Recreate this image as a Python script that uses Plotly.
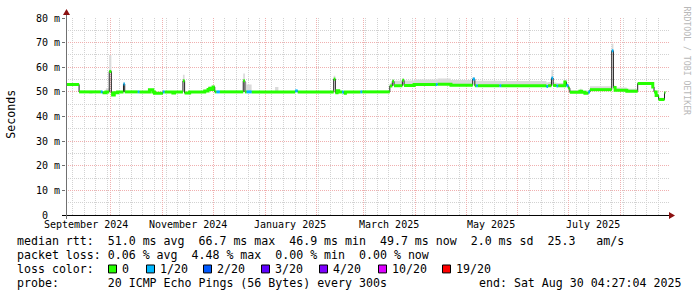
import plotly.graph_objects as go

# ---------------- data ----------------
seg_start = [
    "2024-09-04 04:27", "2024-09-12", "2024-09-18", "2024-09-20", "2024-09-25",
    "2024-09-26", "2024-09-28", "2024-09-30", "2024-10-01 06:00", "2024-10-02",
    "2024-10-03", "2024-10-05", "2024-10-08 12:00", "2024-10-09 06:00", "2024-10-17",
    "2024-10-18", "2024-10-24", "2024-10-26", "2024-10-27", "2024-11-01",
    "2024-11-02", "2024-11-07", "2024-11-08", "2024-11-13", "2024-11-14",
    "2024-11-17", "2024-11-26", "2024-11-28", "2024-11-29", "2024-11-30",
    "2024-12-01", "2024-12-02", "2024-12-03", "2024-12-05", "2024-12-19",
    "2024-12-20", "2024-12-21", "2024-12-24", "2025-01-07", "2025-01-09",
    "2025-01-19", "2025-01-20 12:00", "2025-02-11", "2025-02-12", "2025-02-13",
    "2025-02-14", "2025-02-16", "2025-02-17", "2025-02-18", "2025-02-27",
    "2025-02-28", "2025-03-16 12:00", "2025-03-18", "2025-03-19", "2025-03-24",
    "2025-03-25", "2025-03-31", "2025-04-13", "2025-04-14", "2025-04-22",
    "2025-05-05", "2025-05-06 06:00", "2025-05-07", "2025-05-08", "2025-05-21",
    "2025-05-22", "2025-06-18", "2025-06-19", "2025-06-21", "2025-06-22",
    "2025-06-24", "2025-06-25", "2025-06-29", "2025-06-30", "2025-07-01",
    "2025-07-02", "2025-07-08", "2025-07-09", "2025-07-11", "2025-07-13",
    "2025-07-14", "2025-07-27", "2025-07-28", "2025-07-29", "2025-08-05",
    "2025-08-11 12:00", "2025-08-20 12:00", "2025-08-21 06:00", "2025-08-22 12:00", "2025-08-24",
    "2025-08-27 12:00",
]
series_end = "2025-08-28"

median_ms = [
    53.0, 50.0, 49.7, 50.0, 50.0,
    49.6, 50.0, 58.3, 49.5, 48.7,
    49.6, 50.0, 53.2, 50.0, 50.0,
    50.0, 50.9, 50.0, 49.4, 50.0,
    50.0, 49.5, 50.0, 54.5, 49.5,
    50.0, 50.4, 51.0, 51.5, 51.0,
    52.0, 50.0, 50.0, 50.0, 54.5,
    50.0, 50.0, 50.0, 50.0, 50.0,
    50.4, 50.0, 55.2, 49.6, 50.5,
    50.0, 50.0, 49.4, 50.0, 50.0,
    50.0, 52.4, 54.3, 52.5, 54.7,
    52.6, 53.0, 53.0, 53.1, 52.7,
    55.2, 52.5, 52.5, 52.5, 52.5,
    52.5, 52.2, 52.5, 55.6, 52.6,
    52.4, 52.5, 54.0, 52.6, 51.5,
    49.8, 50.3, 49.8, 49.4, 49.9,
    50.9, 66.7, 51.8, 50.7, 50.3,
    53.4, 52.0, 50.0, 48.5, 46.9,
    49.7,
]

smoke_top_ms = [
    53.6, 50.4, 50.2, 50.4, 50.4,
    50.2, 51.5, 65.0, 50.2, 49.6,
    50.1, 50.4, 54.0, 50.4, 50.4,
    50.4, 51.2, 50.4, 50.0, 50.4,
    50.4, 50.0, 50.4, 57.0, 50.0,
    50.4, 51.0, 51.8, 52.2, 51.8,
    52.6, 50.4, 50.4, 50.4, 57.5,
    54.0, 53.0, 50.4, 52.0, 50.4,
    50.8, 50.4, 56.5, 50.0, 50.9,
    50.4, 50.4, 49.9, 50.4, 50.4,
    50.4, 53.5, 55.0, 54.5, 55.5,
    54.6, 55.0, 55.0, 55.4, 54.8,
    56.0, 54.5, 54.5, 54.5, 54.5,
    54.4, 53.8, 54.0, 59.0, 53.8,
    53.6, 53.6, 54.8, 53.4, 52.5,
    50.8, 51.3, 50.6, 50.6, 50.8,
    52.3, 69.5, 52.6, 51.8, 51.3,
    54.0, 52.8, 50.8, 49.2, 47.6,
    50.4,
]

loss_class = [
    0, 0, 0, 0, 1,
    0, 0, 0, 0, 0,
    0, 0, 1, 0, 1,
    0, 0, 0, 0, 1,
    0, 0, 0, 0, 0,
    0, 0, 0, 0, 0,
    0, 0, 1, 0, 0,
    0, 1, 0, 0, 0,
    1, 0, 0, 0, 0,
    0, 1, 0, 0, 1,
    0, 0, 0, 0, 0,
    0, 0, 1, 0, 0,
    1, 0, 1, 0, 1,
    0, 1, 0, 1, 0,
    1, 0, 0, 1, 0,
    0, 0, 0, 0, 1,
    0, 1, 0, 0, 0,
    0, 0, 0, 0, 0,
    0,
]

loss_labels = ["0", "1/20", "2/20", "3/20", "4/20", "10/20", "19/20"]
loss_colors = ["#26ff00", "#00b8ff", "#0059ff", "#5e00ff", "#7e00ff", "#dd00ff", "#ff0000"]

y_tick_vals = [0, 10, 20, 30, 40, 50, 60, 70, 80]
y_tick_text = ["0  ", "10 m", "20 m", "30 m", "40 m", "50 m", "60 m", "70 m", "80 m"]

month_labels = ["September 2024", "November 2024", "January 2025", "March 2025", "May 2025", "July 2025"]
month_label_dates = ["2024-09-16", "2024-11-16", "2025-01-16", "2025-03-16", "2025-05-16", "2025-07-16"]

x_start = "2024-09-04 04:27:04"
x_end = "2025-08-30 04:27:04"

legend_lines = [
    "median rtt:  51.0 ms avg  66.7 ms max  46.9 ms min  49.7 ms now  2.0 ms sd  25.3   am/s",
    "packet loss: 0.06 % avg  4.48 % max  0.00 % min  0.00 % now",
    "loss color:",
    "probe:       20 ICMP Echo Pings (56 Bytes) every 300s",
]
end_text = "end: Sat Aug 30 04:27:04 2025"
y_title = "Seconds"
watermark = "RRDTOOL / TOBI OETIKER"

# ---------------- layout constants (pixels) ----------------
W, H = 697, 297
PL, PR, PT, PB = 66, 669, 16, 215
MONO = "DejaVu Sans Mono"
MAJOR_GRID = "#f0b0b0"
MINOR_GRID = "#d2d2d2"


def fx(px):
    return (px - PL) / (PR - PL)


def fy(py):
    return (PB - py) / (PB - PT)


def nb(s):
    return s.replace(" ", "\u00a0")


xs = seg_start + [series_end]
ym = median_ms + [median_ms[-1]]
yt = smoke_top_ms + [smoke_top_ms[-1]]

fig = go.Figure()

# smoke band
fig.add_trace(go.Scatter(x=xs, y=ym, mode="lines", line=dict(width=0, shape="hv"),
                         hoverinfo="skip", showlegend=False))
fig.add_trace(go.Scatter(x=xs, y=yt, mode="lines", line=dict(width=0, shape="hv"),
                         fill="tonexty", fillcolor="#dadada",
                         hoverinfo="skip", showlegend=False))
# thin dark median line
fig.add_trace(go.Scatter(x=xs, y=ym, mode="lines",
                         line=dict(width=1, color="#202020", shape="hv"),
                         hoverinfo="skip", showlegend=False))

# loss-coloured median segments
for k, col in enumerate(loss_colors):
    sx, sy = [], []
    prev = None
    for i in range(len(seg_start)):
        if loss_class[i] != k:
            if prev is not None:
                sx.append(None)
                sy.append(None)
                prev = None
            continue
        v = median_ms[i]
        if prev is not None and abs(v - prev) > 1.5:
            sx.append(None)
            sy.append(None)
        sx += [xs[i], xs[i + 1]]
        sy += [v, v]
        prev = v
    if sx:
        fig.add_trace(go.Scatter(x=sx, y=sy, mode="lines",
                                 line=dict(width=3, color=col),
                                 connectgaps=False,
                                 hoverinfo="skip", showlegend=False))

shapes = []
# axes lines
shapes.append(dict(type="line", xref="paper", yref="paper",
                   x0=fx(62), x1=fx(670), y0=fy(215.5), y1=fy(215.5),
                   line=dict(color="#000000", width=1)))
shapes.append(dict(type="line", xref="paper", yref="paper",
                   x0=fx(66.5), x1=fx(66.5), y0=fy(219), y1=fy(12),
                   line=dict(color="#707070", width=1)))
# arrows
shapes.append(dict(type="path", xref="paper", yref="paper",
                   path=f"M {fx(669)} {fy(212)} L {fx(675)} {fy(215.5)} L {fx(669)} {fy(219)} Z",
                   fillcolor="#8b1010", line=dict(width=0)))
shapes.append(dict(type="path", xref="paper", yref="paper",
                   path=f"M {fx(63)} {fy(13)} L {fx(66.5)} {fy(7)} L {fx(70)} {fy(13)} Z",
                   fillcolor="#8b1010", line=dict(width=0)))

annotations = []
# month labels
for lab, d in zip(month_labels, month_label_dates):
    annotations.append(dict(x=d, xref="x", y=fy(225), yref="paper", text=nb(lab),
                            showarrow=False, xanchor="center", yanchor="middle",
                            font=dict(family=MONO, size=10, color="#000")))
# y title
annotations.append(dict(x=fx(10.7), y=fy(113), xref="paper", yref="paper", text=y_title,
                        textangle=-90, showarrow=False, xanchor="center", yanchor="middle",
                        font=dict(family=MONO, size=11.6, color="#000")))
# watermark
annotations.append(dict(x=fx(687), y=fy(59), xref="paper", yref="paper", text=nb(watermark),
                        textangle=90, showarrow=False, xanchor="center", yanchor="middle",
                        font=dict(family=MONO, size=8.2, color="#b8b8b8")))
# legend text lines
line_y = [241, 255, 269.5, 284]
for txt, yy in zip(legend_lines, line_y):
    annotations.append(dict(x=fx(16), y=fy(yy), xref="paper", yref="paper", text=nb(txt),
                            showarrow=False, xanchor="left", yanchor="middle", borderpad=0,
                            font=dict(family=MONO, size=11.6, color="#000")))
annotations.append(dict(x=fx(478), y=fy(284), xref="paper", yref="paper", text=nb(end_text),
                        showarrow=False, xanchor="left", yanchor="middle", borderpad=0,
                        font=dict(family=MONO, size=11.6, color="#000")))
# loss colour legend
sq_x = [108, 146, 203, 261, 319, 378, 442]
for lab, col, px in zip(loss_labels, loss_colors, sq_x):
    shapes.append(dict(type="rect", xref="paper", yref="paper",
                       x0=fx(px + 0.5), x1=fx(px + 8.5), y0=fy(265.5), y1=fy(273.5),
                       fillcolor=col, line=dict(color="#000", width=1)))
    annotations.append(dict(x=fx(px + 13), y=fy(269.5), xref="paper", yref="paper",
                            text=nb(lab), showarrow=False, xanchor="left", yanchor="middle",
                            borderpad=0, font=dict(family=MONO, size=11.6, color="#000")))

fig.update_layout(
    width=W, height=H,
    margin=dict(l=PL, r=W - PR, t=PT, b=H - PB, pad=0),
    paper_bgcolor="#ffffff", plot_bgcolor="#ffffff",
    showlegend=False,
    shapes=shapes, annotations=annotations,
    xaxis=dict(type="date", range=[x_start, x_end], showticklabels=False,
               showgrid=True, gridcolor=MAJOR_GRID, griddash="1px,1px", gridwidth=1,
               dtick="M1", tick0="2024-10-01", zeroline=False, showline=False, ticks="",
               minor=dict(dtick=7 * 24 * 3600 * 1000, tick0="2024-09-08",
                          showgrid=True, gridcolor=MINOR_GRID, griddash="1px,1px", gridwidth=1)),
    yaxis=dict(range=[0, 80], tickmode="array", tickvals=y_tick_vals,
               ticktext=[nb(t) for t in y_tick_text],
               tickfont=dict(family=MONO, size=10, color="#000"),
               showgrid=True, gridcolor=MAJOR_GRID, griddash="1px,1px", gridwidth=1,
               zeroline=False, showline=False, ticks="outside", ticklen=3, tickcolor="#707070",
               minor=dict(dtick=5, showgrid=True, gridcolor=MINOR_GRID, griddash="1px,1px",
                          gridwidth=1)),
)

fig.write_html("out.html")
